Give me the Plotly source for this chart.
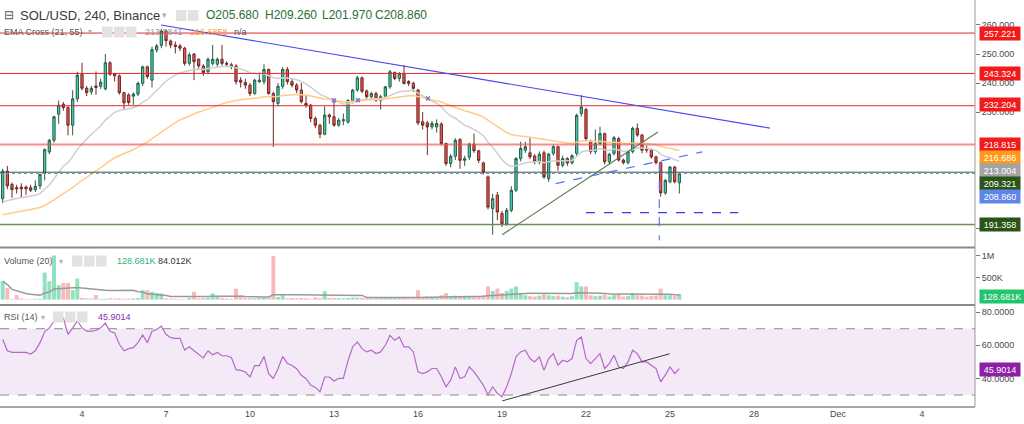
import plotly.graph_objects as go
import pandas as pd

# ---------------- data ----------------
opens = [200.2,209.7,205.1,204.0,204.2,204.2,204.0,203.3,204.6,208.9,
         216.3,220.3,229.3,232.7,231.6,225.5,234.6,243.0,238.2,237.0,
         239.0,238.9,238.0,247.0,243.3,242.5,236.7,235.9,235.5,236.2,
         239.9,245.6,241.0,251.4,253.0,257.9,254.5,253.1,252.8,252.0,
         246.8,250.0,248.2,245.9,243.9,246.8,246.5,248.2,246.8,246.3,
         245.9,241.0,240.2,239.3,236.4,240.5,240.5,244.7,236.4,233.0,
         238.9,244.7,240.5,239.3,237.6,233.0,232.4,227.8,225.5,222.4,
         229.0,228.4,225.5,227.0,226.6,234.0,237.6,241.8,237.3,235.3,
         236.4,234.1,235.5,238.7,243.6,241.6,243.3,240.5,239.9,237.6,
         226.7,226.3,224.9,224.9,225.9,219.2,212.3,214.8,220.6,213.4,
         214.5,219.0,216.7,212.5,207.7,196.8,201.4,195.1,191.6,196.2,
         203.1,214.0,216.9,216.0,214.9,212.9,216.0,207.1,215.8,218.1,
         211.7,214.0,212.5,215.8,229.5,230.9,219.8,216.4,219.2,222.6,
         212.9,215.8,220.9,213.5,212.6,216.4,224.4,222.1,217.5,216.9,
         214.6,212.6,202.2,206.0,211.1,205.68]
highs = [210.5,211.5,205.8,205.0,205.5,204.8,205.0,206.5,208.8,217.5,
         220.8,228.8,234.0,233.5,232.0,237.5,243.9,247.0,239.0,239.0,
         244.0,241.5,250.0,247.5,243.5,243.0,237.0,236.5,236.8,240.5,
         246.0,246.0,252.5,253.5,258.6,258.3,255.0,254.3,253.5,252.5,
         250.5,250.3,248.5,246.5,248.8,253.1,248.8,253.1,247.5,247.0,
         246.5,242.0,241.5,240.0,241.5,243.6,246.5,245.0,237.0,240.0,
         245.5,245.5,241.5,240.0,240.0,236.0,232.8,228.5,226.0,232.0,
         229.5,234.0,228.0,229.5,234.5,238.0,242.5,242.3,237.8,237.0,
         237.0,236.0,239.0,244.5,244.0,243.8,246.2,241.0,240.5,238.0,
         230.0,227.0,227.0,227.5,226.5,219.5,215.5,221.0,221.0,215.0,
         219.5,222.6,217.0,213.0,208.2,201.9,202.5,196.0,197.0,204.5,
         214.5,219.8,219.8,221.3,215.5,216.5,216.8,216.0,218.8,218.5,
         215.0,214.5,215.5,229.5,235.9,231.5,220.5,224.0,225.0,223.0,
         216.0,221.8,221.5,214.0,217.0,225.0,226.1,222.5,218.5,217.5,
         215.0,213.0,207.0,211.5,211.5,209.26]
lows = [198.7,203.5,200.5,202.0,200.6,201.5,202.5,202.5,203.5,206.5,
        215.5,219.5,226.0,230.5,222.0,222.0,233.5,237.5,235.5,236.0,
        236.0,238.0,237.5,242.5,240.5,236.0,231.0,232.5,232.5,235.5,
        239.0,241.5,238.5,250.5,252.0,252.5,252.0,250.2,251.0,246.0,
        246.0,241.0,245.0,242.5,243.0,246.0,245.5,246.0,245.5,244.8,
        239.5,238.5,238.0,235.5,236.0,240.0,239.5,236.0,218.0,232.0,
        238.0,239.5,238.5,236.5,233.0,231.5,226.5,224.5,221.0,222.0,
        226.0,225.0,225.0,225.5,226.0,233.0,237.0,236.5,234.5,234.8,
        233.5,230.9,235.0,238.0,241.0,240.5,239.5,239.0,237.0,225.5,
        224.0,215.2,224.0,223.0,218.5,211.5,211.0,213.5,210.5,211.5,
        213.5,216.0,212.5,208.5,196.5,187.8,192.8,190.5,190.8,195.5,
        202.5,213.0,216.0,213.8,212.0,212.0,207.0,206.0,215.0,209.8,
        211.0,211.5,212.0,215.0,228.5,220.0,215.5,215.5,218.5,212.0,
        212.0,215.0,213.0,212.0,212.0,215.8,221.5,215.8,216.0,214.0,
        212.0,200.9,201.5,205.5,205.5,201.97]
closes = [209.7,204.6,203.3,203.6,203.6,203.6,203.1,204.5,208.6,217.1,
          220.3,228.4,232.4,231.6,225.5,234.6,242.7,238.2,236.7,238.2,
          238.5,240.3,247.0,243.0,242.5,236.7,233.2,233.3,236.2,239.9,
          245.6,242.2,251.5,252.8,257.9,254.6,253.1,252.6,252.0,246.8,
          249.7,247.4,245.9,243.6,248.2,248.2,248.2,246.8,246.5,245.6,
          240.5,240.3,239.3,236.4,241.0,241.0,244.7,236.4,233.6,238.9,
          244.7,240.5,239.3,237.6,233.6,232.4,227.8,225.5,222.4,229.0,
          228.4,225.5,227.2,227.4,234.0,237.6,241.8,237.2,235.3,236.4,
          234.1,235.3,238.7,243.9,241.6,243.3,239.9,239.9,238.2,226.3,
          225.5,224.9,226.1,226.1,219.2,212.3,214.8,220.3,213.4,214.0,
          219.0,216.7,213.4,209.4,197.3,200.2,195.6,191.6,196.2,203.1,
          214.0,217.5,218.1,214.6,212.9,215.5,207.7,215.5,218.1,211.7,
          214.0,212.5,215.0,228.9,231.8,220.9,216.4,219.2,222.6,212.9,
          215.5,221.2,213.5,212.6,216.4,224.4,222.1,216.9,216.9,214.6,
          212.6,202.2,206.5,211.1,206.0,208.86]
volumes_k = [417,267,12,103,29,8,12,18,20,612,
             417,1000,327,379,379,215,477,40,30,25,
             103,15,20,30,25,30,20,25,30,35,
             215,215,177,155,140,30,20,20,15,10,
             40,177,30,35,40,140,60,40,30,25,
             250,100,40,35,30,40,50,40,985,60,
             103,30,35,30,40,30,20,52,35,190,
             40,40,35,30,40,50,45,40,35,30,
             40,35,45,60,40,35,45,30,35,215,
             60,70,50,45,100,150,80,90,80,60,
             70,80,70,90,300,200,250,150,200,250,
             300,150,100,80,70,90,120,100,80,90,
             70,60,80,400,300,300,100,80,90,110,
             70,100,120,70,80,150,100,90,70,80,
             90,250,100,100,80,128.681]
rsi_vals = [63.6,56.7,55.7,55.9,55.7,55.7,54.7,56.7,61.6,68.1,
            70.5,74.4,76.8,76.4,66.6,70.5,74.8,70.5,68.5,68.5,
            68.9,70.5,73.4,68.5,67.5,60.6,56.7,58.0,58.6,61.6,
            66.2,61.6,68.5,69.5,71.5,66.6,64.6,64.2,64.2,57.1,
            59.1,56.7,54.7,52.4,56.7,54.3,55.7,53.7,53.7,52.7,
            45.3,44.9,43.9,40.9,47.8,47.8,53.3,42.9,40.0,45.9,
            53.3,49.2,47.8,45.9,41.9,40.0,36.0,34.6,32.0,40.9,
            40.9,38.5,40.0,40.0,50.8,59.0,62.0,58.0,56.0,57.0,
            55.0,56.0,60.0,66.0,63.0,65.0,59.0,59.0,56.0,44.0,
            43.0,44.0,46.0,46.0,41.0,35.0,39.0,47.0,40.0,41.0,
            47.0,44.0,40.0,36.0,30.0,35.0,31.0,29.0,35.0,43.0,
            53.0,56.0,57.0,52.0,50.0,53.0,45.0,52.0,55.0,48.0,
            51.0,50.0,52.0,63.0,65.0,52.0,49.0,52.0,55.0,46.0,
            49.0,54.0,47.0,46.0,50.0,57.0,55.0,50.0,50.0,48.0,
            46.0,38.0,42.0,47.0,43.0,45.9014]

ema_fast_start = 199.1   # EMA21 value at the first visible bar
ema_slow_start = 194.7   # EMA55 value at the first visible bar

price_ticks = [190, 230, 240, 250, 260]   # the other ticks sit under the badges
h_levels = [257.221, 243.324, 232.204]
pink_level = 218.815
dkgreen_levels = [209.321, 191.358]
last_price = 208.860

cross_times = ['2021-11-13 00:00', '2021-11-13 20:30', '2021-11-16 08:30']
cross_prices = [234.1, 234.1, 234.7]

tick_dates = ['2021-11-04', '2021-11-07', '2021-11-10', '2021-11-13', '2021-11-16',
              '2021-11-19', '2021-11-22', '2021-11-25', '2021-11-28', '2021-12-01',
              '2021-12-04']
tick_text = ['4', '7', '10', '13', '16', '19', '22', '25', '28', 'Dec', '4']

# ---------------- derived ----------------
times = pd.date_range('2021-11-01 04:00', periods=len(closes), freq='4h')

def ema(vals, n, seed):
    k = 2.0 / (n + 1)
    out = [seed]
    for v in vals[1:]:
        out.append(out[-1] + k * (v - out[-1]))
    return out

ema21 = ema(closes, 21, ema_fast_start)
ema55 = ema(closes, 55, ema_slow_start)
vols = [v * 1000 for v in volumes_k]
vol_ma = pd.Series(vols).rolling(20, min_periods=1).mean()
up = [c >= o for o, c in zip(opens, closes)]

# ---------------- geometry ----------------
W, H = 1024, 424
PW, PH = 975, 407
def px(x): return x / PW
def py(y): return 1 - y / PH

X0 = pd.Timestamp('2021-11-01 01:43')
X1 = pd.Timestamp('2021-12-05 21:26')

FONT = 'Liberation Sans, Arial, sans-serif'
fig = go.Figure()

UP_FILL, UP_LINE = '#2dd3c6', '#2f5c3c'
DN_FILL, DN_LINE = '#ec5552', '#6e2a26'

fig.add_trace(go.Scatter(x=times, y=ema21, mode='lines', line=dict(color='#cfcfcf', width=1.5),
                         xaxis='x', yaxis='y', hoverinfo='skip'))
fig.add_trace(go.Scatter(x=times, y=ema55, mode='lines', line=dict(color='#ffcc88', width=1.5),
                         xaxis='x', yaxis='y', hoverinfo='skip'))
fig.add_trace(go.Candlestick(x=times, open=opens, high=highs, low=lows, close=closes,
                             increasing=dict(fillcolor=UP_FILL, line=dict(color=UP_LINE, width=1)),
                             decreasing=dict(fillcolor=DN_FILL, line=dict(color=DN_LINE, width=1)),
                             whiskerwidth=0, xaxis='x', yaxis='y'))
fig.add_trace(go.Scatter(x=pd.to_datetime(cross_times), y=cross_prices, mode='markers',
                         marker=dict(symbol='x-thin', size=4, line=dict(color='#7c6bd6', width=1.5)),
                         xaxis='x', yaxis='y', hoverinfo='skip'))

fig.add_trace(go.Bar(x=times, y=vols, width=4 * 3600 * 1000 * 0.85,
                     marker=dict(color=['rgba(60,200,140,0.55)' if u else 'rgba(245,100,100,0.45)' for u in up],
                                 line=dict(width=0)),
                     xaxis='x2', yaxis='y2'))
fig.add_trace(go.Scatter(x=times, y=vol_ma, mode='lines', line=dict(color='#9a9a9a', width=1.5),
                         xaxis='x2', yaxis='y2', hoverinfo='skip'))

fig.add_trace(go.Scatter(x=times, y=rsi_vals, mode='lines', line=dict(color='#b668c9', width=1.2),
                         xaxis='x3', yaxis='y3', hoverinfo='skip'))

shapes = []
shapes.append(dict(type='rect', xref='x3', yref='y3', x0=X0, x1=X1, y0=30, y1=70,
                   fillcolor='rgba(155,60,180,0.11)', line=dict(width=0), layer='below'))
for lv in (70, 30):
    shapes.append(dict(type='line', xref='x3', yref='y3', x0=X0, x1=X1, y0=lv, y1=lv,
                       line=dict(color='#8c8c8c', width=1, dash='dash')))
shapes.append(dict(type='line', xref='x3', yref='y3', x0='2021-11-19 00:20', y0=26.5,
                   x1='2021-11-24 23:40', y1=54.9, line=dict(color='#3a3a3a', width=1)))

for lv in h_levels:
    shapes.append(dict(type='line', xref='x', yref='y', x0=X0, x1=X1, y0=lv, y1=lv,
                       line=dict(color='#e8262b', width=1)))
shapes.append(dict(type='line', xref='x', yref='y', x0=X0, x1=X1, y0=pink_level, y1=pink_level,
                   line=dict(color='rgba(240,80,80,0.65)', width=2)))
shapes.append(dict(type='line', xref='x', yref='y', x0=X0, x1=X1, y0=dkgreen_levels[0], y1=dkgreen_levels[0],
                   line=dict(color='#3d5a36', width=1)))
shapes.append(dict(type='line', xref='x', yref='y', x0=X0, x1=X1, y0=dkgreen_levels[1], y1=dkgreen_levels[1],
                   line=dict(color='#6f8a5e', width=1.5)))
shapes.append(dict(type='line', xref='x', yref='y', x0=X0, x1=X1, y0=last_price, y1=last_price,
                   line=dict(color='#6f8fe0', width=1, dash='dot')))
shapes.append(dict(type='line', xref='x', yref='y', x0='2021-11-06 19:40', y0=260.0,
                   x1='2021-11-28 13:40', y1=224.5, line=dict(color='#4848f0', width=1.2)))
shapes.append(dict(type='line', xref='x', yref='y', x0='2021-11-19 00:10', y0=187.8,
                   x1='2021-11-24 13:40', y1=223.2, line=dict(color='#5d7a52', width=1.2)))
shapes.append(dict(type='line', xref='x', yref='y', x0='2021-11-20 22:00', y0=205.4,
                   x1='2021-11-26 03:40', y1=216.3, line=dict(color='#5a6ef0', width=1.2, dash='dash')))
shapes.append(dict(type='line', xref='x', yref='y', x0='2021-11-22 00:00', y0=195.4,
                   x1='2021-11-27 10:30', y1=195.4, line=dict(color='#3a3af0', width=1.2, dash='dash')))
shapes.append(dict(type='line', xref='x', yref='y', x0='2021-11-24 14:50', y0=212.4,
                   x1='2021-11-24 14:50', y1=185.9, line=dict(color='#6a6ef0', width=1.2, dash='dash')))

for yy in (247.5, 305):
    shapes.append(dict(type='line', xref='paper', yref='paper', x0=0, x1=1, y0=py(yy), y1=py(yy),
                       line=dict(color='#8a8a8a', width=2)))
shapes.append(dict(type='line', xref='paper', yref='paper', x0=0, x1=1, y0=0, y1=0,
                   line=dict(color='#8a8a8a', width=1.5)))
shapes.append(dict(type='line', xref='paper', yref='paper', x0=1, x1=1, y0=0, y1=1,
                   line=dict(color='#9a9a9a', width=1)))

def icon_boxes(x_start, y_mid, n):
    for k in range(n):
        x0 = x_start + k * 12
        shapes.append(dict(type='rect', xref='paper', yref='paper', x0=px(x0), x1=px(x0 + 10.5),
                           y0=py(y_mid + 5.5), y1=py(y_mid - 5.5), fillcolor='#e2e2e2',
                           line=dict(width=0)))
icon_boxes(176, 15.5, 2)
icon_boxes(102, 32, 3)
icon_boxes(72, 261, 3)
icon_boxes(53, 317, 3)

annotations = []
def txt(x, y, s, color, size=9):
    annotations.append(dict(xref='paper', yref='paper', x=px(x), y=py(y), text=s, showarrow=False,
                            xanchor='left', yanchor='middle', font=dict(color=color, size=size, family=FONT)))

txt(2, 15.5, '⊟', '#555555', 12)
txt(18, 15.5, 'SOL/USD, 240, Binance', '#3a3a3a', 13)
txt(160, 15.5, '▾', '#b0b0b0', 9)
txt(204, 15.5, 'O205.680', '#2c6e35', 12)
txt(263, 15.5, 'H209.260', '#2c6e35', 12)
txt(320, 15.5, 'L201.970', '#2c6e35', 12)
txt(373, 15.5, 'C208.860', '#2c6e35', 12)
txt(2, 32, 'EMA Cross (21, 55)', '#555555')
txt(86, 32, '▾', '#b0b0b0', 8)
txt(143, 32, '213.5841', '#9a9a9a')
txt(188, 32, '216.6858', '#f7a035')
txt(232, 32, 'n/a', '#555555')
txt(2, 261, 'Volume (20)', '#555555')
txt(57, 261, '▾', '#b0b0b0', 8)
txt(115, 261, '128.681K', '#2fb37a')
txt(156, 261, '84.012K', '#333333')
txt(2, 317, 'RSI (14)', '#555555')
txt(39, 317, '▾', '#b0b0b0', 8)
txt(96, 317, '45.9014', '#8e2aa8')

def badge(y, s, bg, w=38):
    annotations.append(dict(xref='paper', yref='paper', x=1, y=py(y), xanchor='left', yanchor='middle',
                            xshift=4, text=s, showarrow=False, bgcolor=bg, borderpad=1,
                            width=w, height=11, align='center',
                            font=dict(color='white', size=9, family=FONT)))
badge(33, '257.221', '#f21b1b')
badge(73, '243.324', '#f21b1b')
badge(104, '232.204', '#f21b1b')
badge(144, '218.815', '#f21b1b')
badge(157, '216.686', '#ff9a1a')
badge(170, '213.004', '#a3a3a3')
badge(183, '209.321', '#2b5417')
badge(196, '208.860', '#5e85e8')
badge(224, '191.358', '#2b5417')
badge(296, '128.681K', '#22c46d', 42)
badge(369, '45.9014', '#8e1ea8')

axis_font = dict(color='#4a4a4a', size=9, family=FONT)

fig.update_layout(
    width=W, height=H, margin=dict(l=0, r=W - PW, t=0, b=H - PH),
    paper_bgcolor='white', plot_bgcolor='white', showlegend=False,
    shapes=shapes, annotations=annotations,
    xaxis=dict(domain=[0, 1], anchor='y', range=[X0, X1], showticklabels=False, showgrid=False,
               zeroline=False, rangeslider=dict(visible=False), type='date'),
    xaxis2=dict(domain=[0, 1], anchor='y2', matches='x', showticklabels=False, showgrid=False,
                zeroline=False, type='date'),
    xaxis3=dict(domain=[0, 1], anchor='y3', matches='x', showgrid=False, zeroline=False, type='date',
                tickvals=pd.to_datetime(tick_dates), ticktext=tick_text, tickfont=axis_font,
                ticks='', showline=False),
    yaxis=dict(domain=[py(247.5), 1], side='right', range=[183.4, 268.6], anchor='x',
               tickvals=price_ticks, tickformat='.3f',
               ticks='outside', ticklen=4, tickcolor='#777777', tickfont=axis_font,
               showgrid=False, zeroline=False),
    yaxis2=dict(domain=[py(305), py(248.5)], side='right', range=[-121000, 1157000], anchor='x2',
                tickvals=[500000, 1000000], ticktext=['500K', '1M'], ticks='outside', ticklen=4,
                tickcolor='#777777', tickfont=axis_font, showgrid=False, zeroline=False),
    yaxis3=dict(domain=[0, py(305.5)], side='right', range=[22.8, 84], anchor='x3',
                tickvals=[40, 60, 80], ticktext=['40.0000', '60.0000', '80.0000'], ticks='outside',
                ticklen=4, tickcolor='#777777', tickfont=axis_font, showgrid=False, zeroline=False),
)

fig.write_html('out.html', config={'displayModeBar': False},
               post_script="document.body.style.margin='0px';document.body.style.overflow='hidden';")
